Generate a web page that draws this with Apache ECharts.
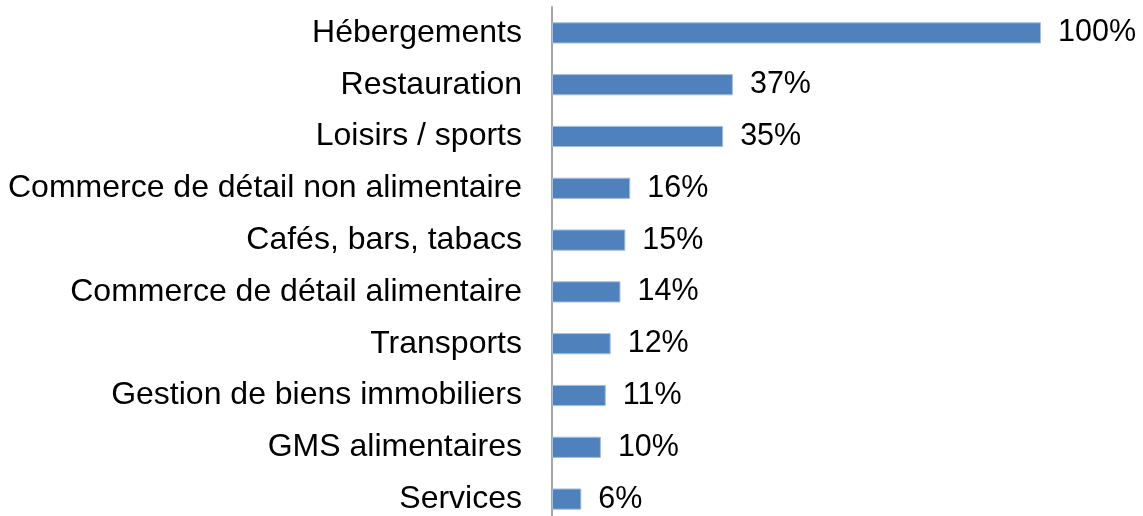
<!DOCTYPE html>
<html>
<head>
<meta charset="utf-8">
<script src="https://cdn.jsdelivr.net/npm/echarts@6/dist/echarts.min.js"></script>
<style>
  html, body { margin: 0; padding: 0; background: #fff; }
  #chart { width: 1143px; height: 516px; }
</style>
</head>
<body>
<div id="chart"></div>
<script>
// categories from top to bottom
var categories = [
  'Hébergements',
  'Restauration',
  'Loisirs / sports',
  'Commerce de détail non alimentaire',
  'Cafés, bars, tabacs',
  'Commerce de détail alimentaire',
  'Transports',
  'Gestion de biens immobiliers',
  'GMS alimentaires',
  'Services'
]
var values = [100, 37, 35, 16, 15, 14, 12, 11, 10, 6]

var chart = echarts.init(document.getElementById('chart'))
chart.setOption({
  animation: false,
  grid: {
    left: 552,
    top: 7,
    width: 489,
    height: 518,
    containLabel: false,
    outerBoundsMode: 'none'
  },
  xAxis: {
    type: 'value',
    min: 0,
    max: 100,
    show: false
  },
  yAxis: {
    type: 'category',
    inverse: true,
    data: categories,
    axisLine: { show: true, lineStyle: { color: '#a6a6a6', width: 2 } },
    axisTick: { show: false },
    axisLabel: {
      color: '#000',
      fontFamily: 'Liberation Sans, Arial, sans-serif',
      fontSize: 32,
      margin: 30
    }
  },
  series: [
    {
      type: 'bar',
      data: values,
      barCategoryGap: '59%',
      itemStyle: { color: '#4f81bd', borderColor: '#a7bfde', borderWidth: 1 },
      label: {
        show: true,
        position: 'right',
        distance: 17,
        formatter: '{c}%',
        color: '#000',
        fontFamily: 'Liberation Sans, Arial, sans-serif',
        fontSize: 30.5
      }
    }
  ]
})
</script>
</body>
</html>
